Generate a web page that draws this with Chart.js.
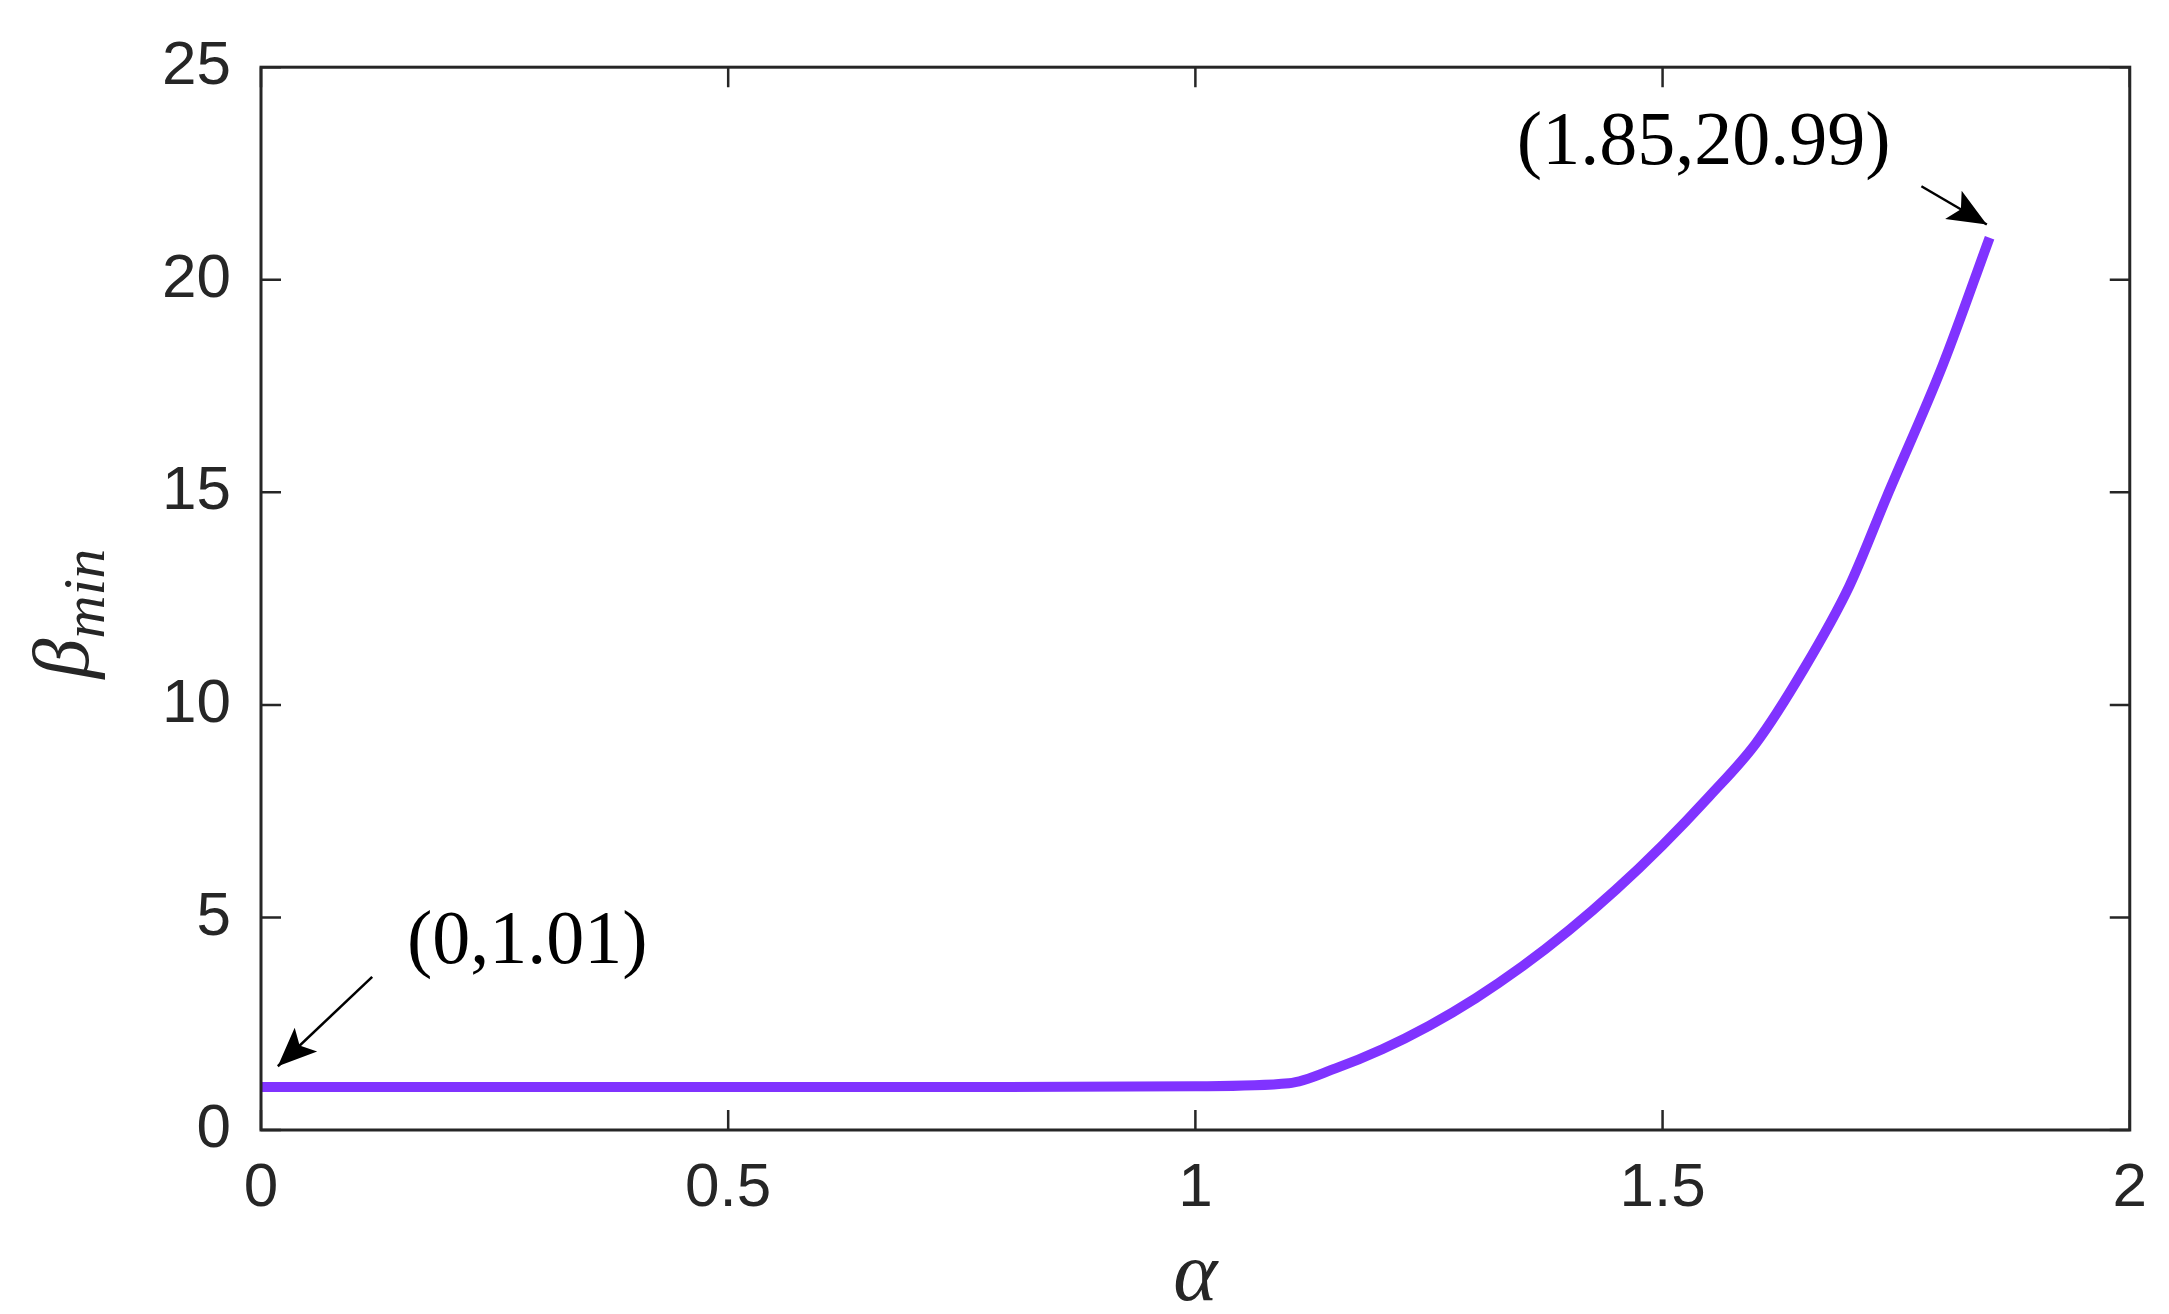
<!DOCTYPE html>
<html>
<head>
<meta charset="utf-8">
<script src="https://cdn.jsdelivr.net/npm/chart.js@4"></script>
<style>
  html, body { margin: 0; padding: 0; background: #fff; }
  #wrap { width: 2169px; height: 1314px; }
</style>
</head>
<body>
<div id="wrap"><canvas id="chart"></canvas></div>
<script>
const alphaVals = [0, 0.2, 0.4, 0.6, 0.8, 1.0, 1.1, 1.15, 1.2, 1.25, 1.3, 1.35, 1.4, 1.45, 1.5, 1.55, 1.6, 1.65, 1.7, 1.74, 1.8, 1.85];
const betaVals  = [1.01, 1.01, 1.01, 1.01, 1.01, 1.03, 1.1, 1.45, 1.9, 2.45, 3.1, 3.85, 4.7, 5.65, 6.7, 7.85, 9.1, 10.8, 12.8, 14.9, 18.0, 20.99];
const xTicks = [0, 0.5, 1, 1.5, 2];
const yTicks = [0, 5, 10, 15, 20, 25];
// annotation: [label, text x, text y, arrow start x, arrow start y, tip x, tip y]
const notes = [
  ['(0,1.01)', 0.285, 4.4, 0.119, 3.6, 0.018, 1.5],
  ['(1.85,20.99)', 1.544, 23.2, 1.777, 22.2, 1.847, 21.3]
];

const pts = alphaVals.map((a, i) => ({ x: a, y: betaVals[i] }));

const notePlugin = {
  id: 'notes',
  afterDatasetsDraw(chart) {
    const { ctx, scales: { x, y } } = chart;
    const a = chart.chartArea;
    ctx.save();
    ctx.fillStyle = '#000';
    ctx.strokeStyle = '#000';
    ctx.font = '76px "Liberation Serif"';
    ctx.textAlign = 'center';
    ctx.textBaseline = 'middle';
    notes.forEach(([label, tx, ty, sx0, sy0, ex0, ey0]) => {
      ctx.fillText(label, x.getPixelForValue(tx), y.getPixelForValue(ty));
      const sx = x.getPixelForValue(sx0), sy = y.getPixelForValue(sy0);
      const ex = x.getPixelForValue(ex0), ey = y.getPixelForValue(ey0);
      ctx.lineWidth = 2.5;
      ctx.beginPath(); ctx.moveTo(sx, sy); ctx.lineTo(ex, ey); ctx.stroke();
      const ang = Math.atan2(ey - sy, ex - sx);
      ctx.beginPath();
      ctx.moveTo(ex, ey);
      ctx.lineTo(ex - 42 * Math.cos(ang - 0.4), ey - 42 * Math.sin(ang - 0.4));
      ctx.lineTo(ex - 30 * Math.cos(ang), ey - 30 * Math.sin(ang));
      ctx.lineTo(ex - 42 * Math.cos(ang + 0.4), ey - 42 * Math.sin(ang + 0.4));
      ctx.closePath(); ctx.fill();
    });
    // box frame
    ctx.lineWidth = 3;
    ctx.strokeStyle = '#262626';
    ctx.strokeRect(a.left, a.top, a.right - a.left, a.bottom - a.top);
    // inward ticks on all sides
    ctx.lineWidth = 2.5;
    xTicks.forEach(v => {
      const p = x.getPixelForValue(v);
      ctx.beginPath(); ctx.moveTo(p, a.bottom); ctx.lineTo(p, a.bottom - 20);
      ctx.moveTo(p, a.top); ctx.lineTo(p, a.top + 20); ctx.stroke();
    });
    yTicks.forEach(v => {
      const p = y.getPixelForValue(v);
      ctx.beginPath(); ctx.moveTo(a.left, p); ctx.lineTo(a.left + 20, p);
      ctx.moveTo(a.right, p); ctx.lineTo(a.right - 20, p); ctx.stroke();
    });
    // axis titles: beta with subscript, alpha
    ctx.fillStyle = '#262626';
    ctx.textAlign = 'left';
    ctx.textBaseline = 'alphabetic';
    ctx.save();
    ctx.translate(88, (a.top + a.bottom) / 2 + 80);
    ctx.rotate(-Math.PI / 2);
    ctx.font = 'italic 80px "Liberation Serif"';
    ctx.fillText('β', 0, 0);
    const bw = ctx.measureText('β').width;
    ctx.font = 'italic 60px "Liberation Serif"';
    ctx.fillText('min', bw, 16);
    ctx.restore();
    ctx.font = 'italic 84px "Liberation Serif"';
    ctx.textAlign = 'center';
    ctx.fillText('α', (a.left + a.right) / 2, 1300);
    ctx.restore();
  }
};

new Chart(document.getElementById('chart'), {
  type: 'scatter',
  data: {
    datasets: [{
      data: pts,
      showLine: true,
      borderColor: '#8033ff',
      borderWidth: 10,
      pointRadius: 0,
      cubicInterpolationMode: 'monotone'
    }]
  },
  options: {
    responsive: true,
    maintainAspectRatio: false,
    animation: false,
    layout: { padding: { top: 46, right: 35, left: 0, bottom: 0 } },
    plugins: { legend: { display: false }, tooltip: { enabled: false } },
    scales: {
      x: {
        type: 'linear', min: 0, max: 2,
        afterBuildTicks: s => { s.ticks = xTicks.map(v => ({ value: v })); },
        afterFit: s => { s.height = 184; },
        grid: { display: false, drawTicks: false },
        border: { display: false },
        ticks: { color: '#262626', font: { family: 'Liberation Sans', size: 62 }, padding: 22,
                 callback: v => String(v) }
      },
      y: {
        min: 0, max: 25,
        afterBuildTicks: s => { s.ticks = yTicks.map(v => ({ value: v })); },
        afterFit: s => { s.width = 261; },
        grid: { display: false, drawTicks: false },
        border: { display: false },
        ticks: { color: '#262626', font: { family: 'Liberation Sans', size: 62 }, padding: 30 }
      }
    }
  },
  plugins: [notePlugin]
});
</script>
</body>
</html>
